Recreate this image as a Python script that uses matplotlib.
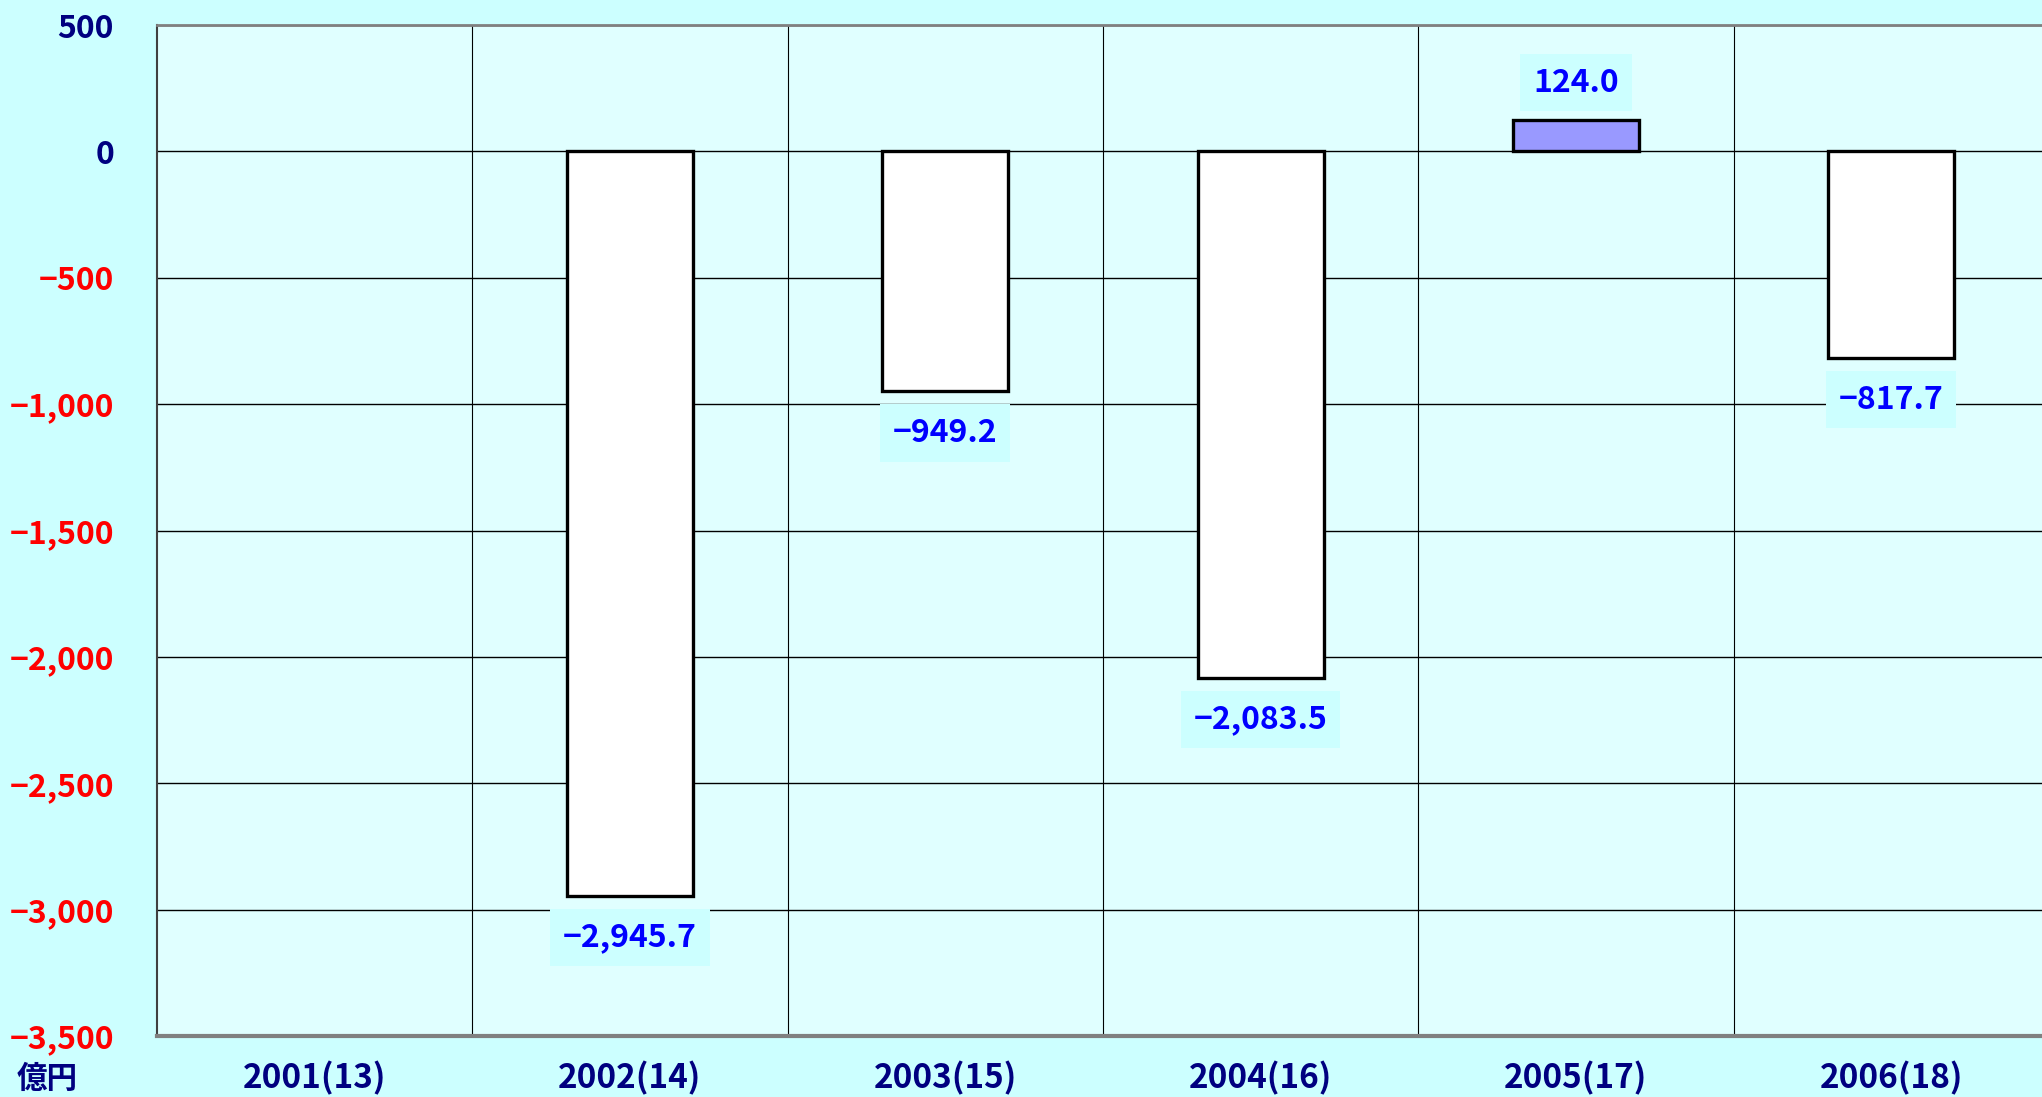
import matplotlib
matplotlib.use("Agg")
import matplotlib.pyplot as plt
from matplotlib.ticker import FuncFormatter

plt.rcParams['font.family'] = ['Noto Sans CJK JP', 'DejaVu Sans']

# data
years = ["2001(13)", "2002(14)", "2003(15)", "2004(16)", "2005(17)", "2006(18)"]
values = [None, -2945.7, -949.2, -2083.5, 124.0, -817.7]
yticks = [500, 0, -500, -1000, -1500, -2000, -2500, -3000, -3500]
unit = "億円"

BG = "#CCFFFF"
PLOT_BG = "#E0FFFF"
NAVY = "#000080"


def fmt(v):
    s = f"{abs(v):,.1f}"
    return ("\u2212" + s) if v < 0 else s


def fmt_tick(v, pos=None):
    s = f"{abs(int(round(v))):,}"
    return ("\u2212" + s) if v < 0 else s


fig = plt.figure(figsize=(20.42, 10.97), dpi=100, facecolor=BG)
ax = fig.add_axes([157 / 2042, 61 / 1097, 1892 / 2042, 1011 / 1097])
ax.set_facecolor(PLOT_BG)

x = list(range(len(years)))
for xi, v in zip(x, values):
    if v is None:
        continue
    fc = "#9999FF" if v > 0 else "white"
    ax.bar(xi, v, width=0.4, color=fc, edgecolor="black", linewidth=2.4, zorder=3)
    off = 27 if v > 0 else -30
    ax.annotate(fmt(v), (xi, v), xytext=(0, off), textcoords="offset points",
                ha="center", va="center", fontsize=23, fontweight="bold",
                color="#0000FF", zorder=4,
                bbox=dict(boxstyle="square,pad=0.4", fc=BG, ec="none"))

ax.set_xlim(-0.5, len(years) - 0.5)
ax.set_ylim(-3500, 500)
ax.set_yticks(yticks)
ax.yaxis.set_major_formatter(FuncFormatter(fmt_tick))
ax.set_xticks(x)
ax.set_xticklabels(years)

# grid: horizontal at y ticks, vertical at category boundaries
for yv in yticks:
    ax.axhline(yv, color="black", linewidth=1.0, zorder=1)
for b in range(1, len(years)):
    ax.axvline(b - 0.5, color="black", linewidth=0.8, zorder=1)

ax.tick_params(axis="both", length=0)
ax.tick_params(axis="y", pad=31, labelsize=23)
ax.tick_params(axis="x", pad=18, colors=NAVY, labelsize=24)
for lbl in ax.get_xticklabels():
    lbl.set_fontweight("bold")
for lbl, yv in zip(ax.get_yticklabels(), yticks):
    lbl.set_fontweight("bold")
    lbl.set_color(NAVY if yv >= 0 else "#FF0000")

for side in ["top", "bottom"]:
    ax.spines[side].set_color("#808080")
ax.spines["top"].set_linewidth(2)
ax.spines["bottom"].set_linewidth(3)
ax.spines["left"].set_color("#404040")
ax.spines["left"].set_linewidth(1.5)
ax.spines["right"].set_visible(False)

fig.text(17 / 2042, 2 / 1097, unit, ha="left", va="bottom",
         fontsize=22, fontweight="bold", color=NAVY)

fig.savefig("out.png", dpi=100, facecolor=BG)
